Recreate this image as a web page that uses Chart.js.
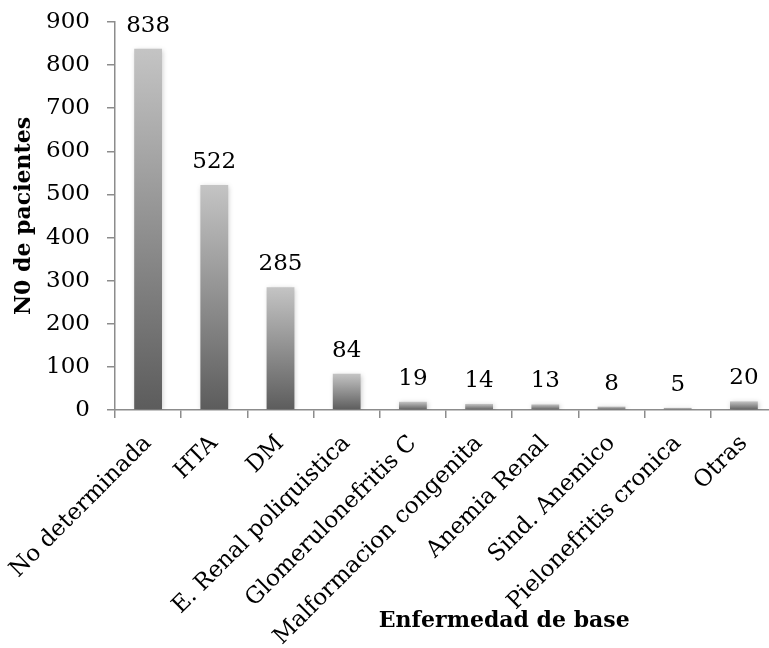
<!DOCTYPE html>
<html>
<head>
<meta charset="utf-8">
<script src="https://cdn.jsdelivr.net/npm/chart.js@4/dist/chart.umd.min.js"></script>
<style>
  html, body { margin: 0; padding: 0; background: #ffffff; overflow: hidden; }
  #wrap { width: 777px; height: 648px; }
</style>
</head>
<body>
<div id="wrap"><canvas id="chart" width="777" height="648"></canvas></div>
<script>
// Underlying disease of the patients and how many patients have each one
const categories = [
  'No determinada', 'HTA', 'DM', 'E. Renal poliquistica', 'Glomerulonefritis C',
  'Malformacion congenita', 'Anemia Renal', 'Sind. Anemico', 'Pielonefritis cronica', 'Otras'
];
const patients = [838, 522, 285, 84, 19, 14, 13, 8, 5, 20];
const yTicks = [0, 100, 200, 300, 400, 500, 600, 700, 800, 900];

const yTitle = 'N0 de pacientes';
const xTitle = 'Enfermedad de base';

const FONT = '"DejaVu Serif", "Liberation Serif", serif';
const AXIS_GREY = '#8c8c8c';

// Each bar gets its own vertical gradient, light at its top and dark at the base
function barGradient(context) {
  const chart = context.chart;
  const yScale = chart.scales.y;
  if (!yScale || context.raw === undefined) return '#909090';
  const top = yScale.getPixelForValue(context.raw);
  const base = yScale.getPixelForValue(0);
  if (!isFinite(top) || !isFinite(base) || top === base) return '#909090';
  const g = chart.ctx.createLinearGradient(0, top, 0, base);
  g.addColorStop(0, '#c4c4c4');
  g.addColorStop(1, '#5c5c5c');
  return g;
}

// Soft shadow around the bars
const barShadow = {
  id: 'barShadow',
  beforeDatasetsDraw(chart) {
    const c = chart.ctx;
    c.save();
    c.shadowColor = 'rgba(0,0,0,0.22)';
    c.shadowBlur = 5;
    c.shadowOffsetX = 1;
    c.shadowOffsetY = 1;
  },
  afterDatasetsDraw(chart) {
    chart.ctx.restore();
  }
};

// Value written above every bar
const valueLabels = {
  id: 'valueLabels',
  afterDatasetsDraw(chart) {
    const c = chart.ctx;
    const meta = chart.getDatasetMeta(0);
    const data = chart.data.datasets[0].data;
    c.save();
    c.font = '23px ' + FONT;
    c.fillStyle = '#000000';
    c.textAlign = 'center';
    c.textBaseline = 'alphabetic';
    meta.data.forEach((bar, i) => {
      c.fillText(String(data[i]), bar.x, bar.y - 17);
    });
    c.restore();
  }
};

// Horizontal axis title
const xAxisTitle = {
  id: 'xAxisTitle',
  afterDraw(chart) {
    const c = chart.ctx;
    const area = chart.chartArea;
    c.save();
    c.font = 'bold 22px ' + FONT;
    c.fillStyle = '#000000';
    c.textAlign = 'center';
    c.textBaseline = 'middle';
    c.fillText(xTitle, area.left + (area.right - area.left) * 0.588, chart.height - 27);
    c.restore();
  }
};

new Chart(document.getElementById('chart'), {
  type: 'bar',
  data: {
    labels: categories,
    datasets: [{
      data: patients,
      backgroundColor: barGradient,
      borderWidth: 0,
      categoryPercentage: 1.0,
      barPercentage: 0.42
    }]
  },
  plugins: [barShadow, valueLabels, xAxisTitle],
  options: {
    responsive: false,
    devicePixelRatio: 1,
    animation: false,
    layout: { padding: { top: 22, right: 0, bottom: 0, left: 0 } },
    plugins: {
      legend: { display: false },
      tooltip: { enabled: false }
    },
    scales: {
      x: {
        offset: true,
        grid: {
          offset: true,
          drawOnChartArea: false,
          drawTicks: true,
          tickLength: 8,
          color: AXIS_GREY,
          lineWidth: 1.5
        },
        border: { display: true, color: AXIS_GREY, width: 1.5 },
        ticks: {
          autoSkip: false,
          maxRotation: 45,
          minRotation: 45,
          padding: 12,
          color: '#000000',
          font: { family: FONT, size: 23 }
        },
        afterFit(scale) {
          scale.height = 238;
          scale.paddingLeft = 0;
          scale.paddingRight = 0;
        }
      },
      y: {
        min: 0,
        max: 900,
        afterBuildTicks(scale) { scale.ticks = yTicks.map(v => ({ value: v })); },
        grid: {
          drawOnChartArea: false,
          drawTicks: true,
          tickLength: 8,
          color: AXIS_GREY,
          lineWidth: 1.5
        },
        border: { display: true, color: AXIS_GREY, width: 1.5 },
        ticks: {
          padding: 17,
          color: '#000000',
          font: { family: FONT, size: 23 }
        },
        title: {
          display: true,
          text: yTitle,
          color: '#000000',
          font: { family: FONT, size: 22, weight: 'bold' },
          padding: { top: 11, bottom: 0 }
        },
        afterFit(scale) {
          scale.width = 115;
          scale.paddingTop = 0;
          scale.paddingBottom = 0;
        }
      }
    }
  }
});
</script>
</body>
</html>
